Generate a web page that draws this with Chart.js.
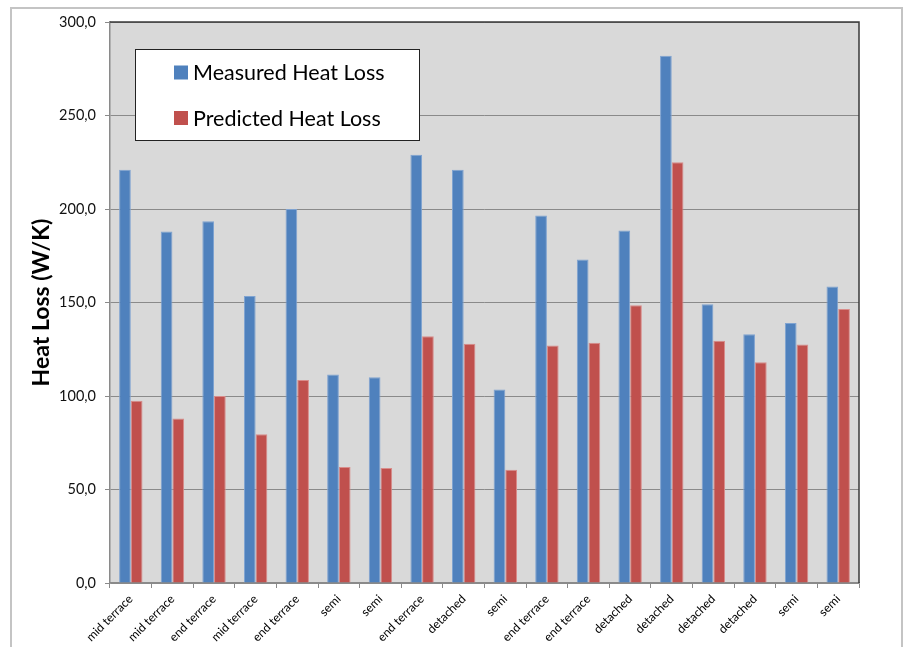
<!DOCTYPE html>
<html>
<head>
<meta charset="utf-8">
<script src="https://cdn.jsdelivr.net/npm/chart.js@4/dist/chart.umd.min.js"></script>
<style>
  html, body { margin: 0; padding: 0; background: #ffffff; }
  #wrap { width: 909px; height: 647px; position: relative; }
</style>
</head>
<body>
<div id="wrap"><canvas id="chart" width="909" height="647"></canvas></div>
<script>
// house types along the x axis
const categories = [
    "mid terrace", "mid terrace", "end terrace", "mid terrace", "end terrace",
    "semi", "semi", "end terrace", "detached", "semi",
    "end terrace", "end terrace", "detached", "detached", "detached",
    "detached", "semi", "semi",
];

const measured = [221, 188, 193.5, 153.5, 200, 111.5, 110, 229, 221, 103.5, 196.5, 173, 188.5, 282, 149, 133, 139, 158.5];
const predicted = [97.5, 88, 100, 79.5, 108.5, 62, 61.5, 132, 128, 60.5, 127, 128.5, 148.5, 225, 129.5, 118, 127.5, 146.5];

const seriesNames = ["Measured Heat Loss", "Predicted Heat Loss"];
const yTicks = [0, 50, 100, 150, 200, 250, 300];

const FONT = "Lato, 'Open Sans', sans-serif";
const BLUE = "#4f81bd";
const RED = "#c0504d";

// plot background, outer frame, plot border and the boxed legend
const decor = {
    id: "decor",
    beforeDraw(chart) {
        const { ctx, chartArea: a } = chart;
        ctx.save();
        ctx.strokeStyle = "#c4c4c4";
        ctx.lineWidth = 2;
        ctx.strokeRect(11, 8, 891, 660);
        ctx.fillStyle = "#d9d9d9";
        ctx.fillRect(a.left, a.top, a.right - a.left, a.bottom - a.top);
        ctx.restore();
    },
    afterDraw(chart) {
        const { ctx, chartArea: a } = chart;
        ctx.save();
        ctx.strokeStyle = "#3a3a3a";
        ctx.lineWidth = 1.5;
        ctx.beginPath();
        ctx.moveTo(a.left, a.top);
        ctx.lineTo(a.right, a.top);
        ctx.lineTo(a.right, a.bottom);
        ctx.stroke();

        // legend
        const box = { x: 135.5, y: 49.5, w: 284, h: 91 };
        ctx.fillStyle = "#ffffff";
        ctx.fillRect(box.x, box.y, box.w, box.h);
        ctx.strokeStyle = "#222222";
        ctx.lineWidth = 1;
        ctx.strokeRect(box.x, box.y, box.w, box.h);
        ctx.font = "21.5px " + FONT;
        ctx.textBaseline = "middle";
        ctx.textAlign = "left";
        const rows = [72.5, 118];
        chart.data.datasets.forEach((ds, i) => {
            ctx.fillStyle = ds.backgroundColor;
            ctx.fillRect(174, rows[i] - 7, 14, 14);
            ctx.fillStyle = "#000000";
            ctx.fillText(ds.label, 193, rows[i] + 1);
        });
        ctx.restore();
    },
};

new Chart(document.getElementById("chart"), {
    type: "bar",
    data: {
        labels: categories,
        datasets: [
            {
                label: seriesNames[0],
                data: measured,
                backgroundColor: BLUE,
                borderColor: "#7fa3d1",
                borderWidth: 1,
                categoryPercentage: 0.5625,
                barPercentage: 1,
            },
            {
                label: seriesNames[1],
                data: predicted,
                backgroundColor: RED,
                borderColor: "#d98c8a",
                borderWidth: 1,
                categoryPercentage: 0.5625,
                barPercentage: 1,
            },
        ],
    },
    options: {
        responsive: false,
        animation: false,
        layout: { padding: { top: 22, right: 50, left: 0, bottom: 0 } },
        plugins: {
            legend: { display: false },
            tooltip: { enabled: false },
        },
        scales: {
            x: {
                offset: true,
                grid: {
                    offset: true,
                    drawOnChartArea: false,
                    color: "#8a8a8a",
                    tickLength: 5,
                },
                border: { color: "#8a8a8a", width: 1.5 },
                ticks: {
                    color: "#000000",
                    font: { family: FONT, size: 12 },
                    minRotation: 45,
                    maxRotation: 45,
                    autoSkip: false,
                    padding: 4,
                },
                afterFit(scale) { scale.height = 64; },
            },
            y: {
                min: 0,
                max: 300,
                afterBuildTicks(scale) { scale.ticks = yTicks.map((v) => ({ value: v })); },
                grid: { color: "#8a8a8a", tickLength: 5, lineWidth: 1 },
                border: { color: "#8a8a8a", width: 1.5 },
                ticks: {
                    color: "#111111",
                    font: { family: FONT, size: 14.5 },
                    padding: 9,
                    callback: (v) => v.toFixed(1).replace(".", ","),
                },
                title: {
                    display: true,
                    text: "Heat Loss (W/K)",
                    color: "#000000",
                    font: { family: FONT, size: 23, weight: "bold" },
                    padding: { top: 28, bottom: 0 },
                },
                afterFit(scale) { scale.width = 110; },
            },
        },
    },
    plugins: [decor],
});
</script>
</body>
</html>
